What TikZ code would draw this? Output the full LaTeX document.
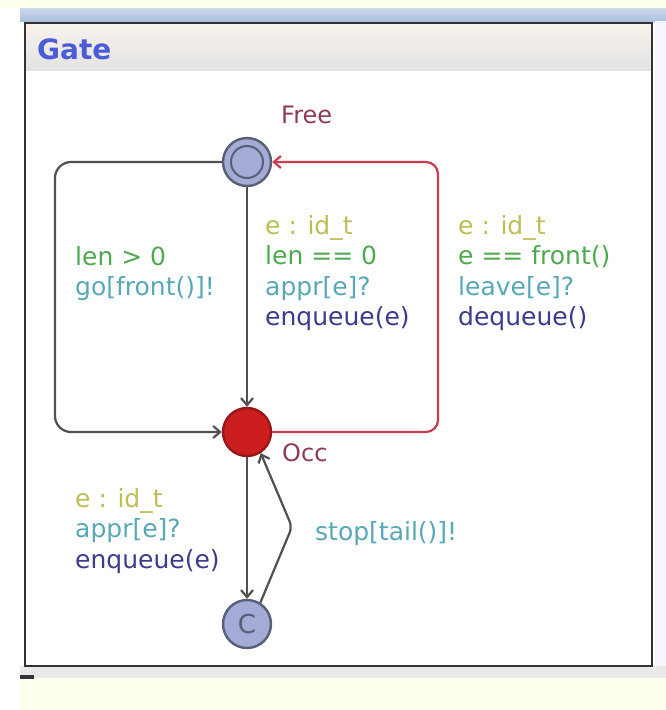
\documentclass[tikz,border=0pt]{standalone}
\usepackage{fontspec}
\setmainfont{DejaVu Sans}
\usepackage{xcolor}
\usetikzlibrary{arrows.meta}

\definecolor{bgyellow}{HTML}{FFFFEE}
\definecolor{barblue}{HTML}{A9C1E0}
\definecolor{headgray}{HTML}{E3E3E3}
\definecolor{titleblue}{HTML}{4A5CD8}
\definecolor{locfill}{HTML}{A4ABD6}
\definecolor{locline}{HTML}{5A5F78}
\definecolor{occred}{HTML}{CC1E1E}
\definecolor{locname}{HTML}{8E3A55}
\definecolor{selcol}{HTML}{BEBE55}
\definecolor{guardcol}{HTML}{4FAA4F}
\definecolor{synccol}{HTML}{58A9B6}
\definecolor{updcol}{HTML}{3C3C8C}
\definecolor{edgegray}{HTML}{505050}
\definecolor{edgered}{HTML}{CC3C50}

\begin{document}
\begin{tikzpicture}[x=1pt,y=-1pt,
    loc/.style={circle,draw=locline,line width=2.4pt,fill=locfill,minimum size=48pt,inner sep=0pt},
    edge/.style={draw=edgegray,line width=2.2pt,-{Straight Barb[length=7pt,width=12pt]}},
    redge/.style={edge,draw=edgered},
    label/.style={font=\fontsize{25}{30.5}\selectfont,align=left,inner sep=0pt,anchor=north west},
    locnm/.style={font=\fontsize{24}{28}\selectfont,text=locname,inner sep=0pt,anchor=base west}]
    \useasboundingbox (0,0) rectangle (666,710);

    % Window background, bars and frame
    \fill[white] (0,0) rectangle (666,710);
    \fill[bgyellow] (0,0) rectangle (666,8);
    \fill[bgyellow] (20,678) rectangle (666,710);
    \shade[top color=barblue!60,bottom color=barblue] (20,8) rectangle (666,21);
    \fill[blue!4] (655,21) rectangle (666,666);
    \fill[headgray!80] (20,666) rectangle (666,678);
    \fill[black!80] (20,675) rectangle (34,679);
    \shade[top color=brown!10,bottom color=headgray] (25,23) rectangle (652,70);
    \draw[line width=2.2pt,black!80] (25,23) rectangle (652,666);
    \node[font=\fontsize{28}{30}\selectfont\bfseries,text=titleblue,inner sep=0pt,anchor=base west] (title) at (37,59) {Gate};

    % Locations
    \node[loc] (free) at (247,162) {};
    \node[circle,draw=locline,line width=2pt,minimum size=32pt,inner sep=0pt] (freein) at (free) {};
    \node[loc,fill=occred,draw=occred!75!black] (occ) at (247,432) {};
    \node[loc,font=\fontsize{26}{28}\selectfont,text=locline] (c) at (247,624) {C};

    % Location names
    \node[locnm] (freename) at (281,123) {Free};
    \node[locnm] (occname) at (282,461) {Occ};

    % Corner points of the two outer edges
    \coordinate (lt) at (55,162);
    \coordinate (lb) at (55,432);
    \coordinate (rt) at (438,162);
    \coordinate (rb) at (438,432);
    \coordinate (bend) at (292,527);

    % Edges
    \draw[edge,rounded corners=16pt] (free.west) -- (lt) -- (lb) -- (occ.west);
    \draw[edge] (free) -- (occ);
    \draw[redge,rounded corners=12pt] (occ.east) -- (rb) -- (rt) -- (free.east);
    \draw[edge] (occ) -- (c);
    \draw[edge,rounded corners=6pt] (c.58) -- (bend) -- (occ.-57);

    % Edge labels
    \node[label] (goL) at (75,246) {\color{guardcol}len > 0\\ \color{synccol}go[front()]!};
    \node[label] (apprL) at (265,215) {\color{selcol}e : id\_t\\ \color{guardcol}len == 0\\ \color{synccol}appr[e]?\\ \color{updcol}enqueue(e)};
    \node[label] (leaveL) at (458,215) {\color{selcol}e : id\_t\\ \color{guardcol}e == front()\\ \color{synccol}leave[e]?\\ \color{updcol}dequeue()};
    \node[label] (enqL) at (75,488) {\color{selcol}e : id\_t\\ \color{synccol}appr[e]?\\ \color{updcol}enqueue(e)};
    \node[label,anchor=base west,text=synccol] (stopL) at (315,540) {stop[tail()]!};
\end{tikzpicture}
\end{document}
